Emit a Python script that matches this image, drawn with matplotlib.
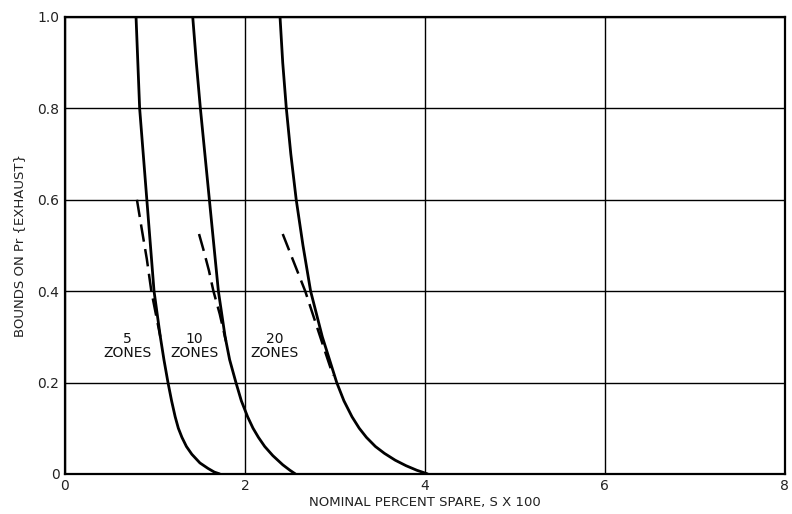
import matplotlib.pyplot as plt

# Solid curves (bounds)
y5 = [1.00, 0.90, 0.80, 0.70, 0.60, 0.50, 0.40, 0.30, 0.25, 0.20, 0.16, 0.125,
      0.10, 0.08, 0.06, 0.043, 0.024, 0.012, 0.004, 0.0]
x5 = [0.79, 0.81, 0.83, 0.87, 0.91, 0.95, 0.99, 1.06, 1.10, 1.145, 1.185, 1.225,
      1.26, 1.30, 1.35, 1.41, 1.50, 1.59, 1.66, 1.72]
y10 = [1.00, 0.90, 0.80, 0.70, 0.60, 0.50, 0.40, 0.30, 0.25, 0.20, 0.16, 0.125,
       0.10, 0.08, 0.06, 0.04, 0.02, 0.008, 0.0]
x10 = [1.42, 1.46, 1.505, 1.555, 1.605, 1.655, 1.705, 1.78, 1.83, 1.90, 1.96, 2.03,
       2.09, 2.15, 2.22, 2.31, 2.42, 2.50, 2.56]
y20 = [1.00, 0.90, 0.80, 0.70, 0.60, 0.50, 0.40, 0.30, 0.25, 0.20, 0.16, 0.125,
       0.10, 0.08, 0.06, 0.045, 0.03, 0.018, 0.008, 0.0]
x20 = [2.39, 2.42, 2.46, 2.51, 2.57, 2.645, 2.73, 2.86, 2.94, 3.02, 3.10, 3.19,
       3.27, 3.35, 3.45, 3.55, 3.67, 3.79, 3.91, 4.03]

# Dashed curves (approximations)
xd5 = [0.80, 0.85, 0.91, 0.96, 1.01, 1.06]
yd5 = [0.60, 0.54, 0.47, 0.40, 0.35, 0.30]
xd10 = [1.49, 1.54, 1.60, 1.65, 1.72, 1.79]
yd10 = [0.525, 0.49, 0.445, 0.40, 0.35, 0.29]
xd20 = [2.42, 2.50, 2.58, 2.67, 2.77, 2.87, 2.98]
yd20 = [0.525, 0.485, 0.445, 0.40, 0.34, 0.28, 0.215]

labels = ['5\nZONES', '10\nZONES', '20\nZONES']
label_x = [0.69, 1.44, 2.33]
label_y = [0.28, 0.28, 0.28]

fig = plt.figure(figsize=(7.92, 5.14), dpi=100)
ax = fig.add_axes([0.082, 0.078, 0.909, 0.889])

ax.set_xlim(0, 8)
ax.set_ylim(0, 1.0)
ax.set_xticks([0, 2, 4, 6, 8])
ax.set_yticks([0, 0.2, 0.4, 0.6, 0.8, 1.0])
ax.set_xticklabels(['0', '2', '4', '6', '8'])
ax.set_yticklabels(['0', '0.2', '0.4', '0.6', '0.8', '1.0'])
ax.tick_params(length=0, labelsize=10, colors='#222222', pad=4)
ax.grid(True, color='black', lw=1.0)
ax.set_axisbelow(True)
for s in ax.spines.values():
    s.set_linewidth(1.6)

for xs, ys in [(x5, y5), (x10, y10), (x20, y20)]:
    ax.plot(xs, ys, color='black', lw=2.0, solid_capstyle='round',
            solid_joinstyle='round', zorder=3)
for xs, ys in [(xd5, yd5), (xd10, yd10), (xd20, yd20)]:
    ax.plot(xs, ys, color='black', lw=1.8, dashes=(7, 3), zorder=3)

for t, lx, ly in zip(labels, label_x, label_y):
    ax.text(lx, ly, t, ha='center', va='center', fontsize=10, linespacing=1.05,
            color='#111111', zorder=4,
            bbox=dict(facecolor='white', edgecolor='none', pad=1))

ax.set_xlabel('NOMINAL PERCENT SPARE, S X 100', fontsize=9.5, labelpad=2, color='#222222')
ax.set_ylabel('BOUNDS ON Pr {EXHAUST}', fontsize=9.5, labelpad=8, color='#222222')

fig.savefig('out.png', dpi=100)
